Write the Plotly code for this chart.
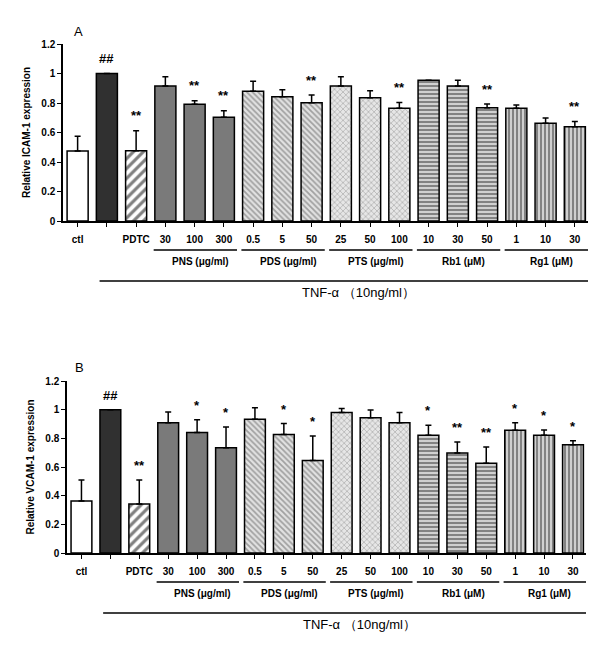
import plotly.graph_objects as go

# bar labels under the x axis
tick_labels = ["ctl", "", "PDTC", "30", "100", "300", "0.5", "5", "50",
               "25", "50", "100", "10", "30", "50", "1", "10", "30"]
treatment = (["ctl", "TNF", "PDTC"] + ["PNS"] * 3 + ["PDS"] * 3
             + ["PTS"] * 3 + ["Rb1"] * 3 + ["Rg1"] * 3)

group_keys = ["PNS", "PDS", "PTS", "Rb1", "Rg1"]
group_titles = ["PNS (μg/ml)", "PDS (μg/ml)", "PTS (μg/ml)", "Rb1 (μM)", "Rg1 (μM)"]

# panel A: ICAM-1
icam_mean = [0.475, 1.0, 0.477, 0.915, 0.791, 0.703, 0.879, 0.843, 0.802,
             0.915, 0.836, 0.764, 0.954, 0.915, 0.768, 0.764, 0.662, 0.639]
icam_err = [0.10, 0.0, 0.135, 0.063, 0.025, 0.045, 0.068, 0.047, 0.052,
            0.063, 0.047, 0.040, 0.0, 0.040, 0.025, 0.022, 0.036, 0.036]
icam_sig = ["", "##", "**", "", "**", "**", "", "", "**",
            "", "", "**", "", "", "**", "", "", "**"]

# panel B: VCAM-1
vcam_mean = [0.363, 1.0, 0.342, 0.908, 0.840, 0.734, 0.933, 0.826, 0.646,
             0.980, 0.943, 0.908, 0.821, 0.697, 0.627, 0.856, 0.821, 0.756]
vcam_err = [0.147, 0.0, 0.168, 0.075, 0.090, 0.145, 0.080, 0.077, 0.170,
            0.028, 0.054, 0.072, 0.070, 0.077, 0.112, 0.052, 0.037, 0.028]
vcam_sig = ["", "##", "**", "", "*", "*", "", "*", "*",
            "", "", "", "*", "**", "**", "*", "*", "*"]

# page has an 8px body margin, so the figure is drawn 8px in from the corner
OFF = 8
W, H = 600 - OFF, 657 - OFF
FONT = "Liberation Sans, Arial, sans-serif"

STYLES = {
    "ctl": dict(color="white"),
    "TNF": dict(color="#303030"),
    "PDTC": dict(color="white", pattern=dict(shape="/", size=7, solidity=0.45, fgcolor="black", bgcolor="white")),
    "PNS": dict(color="#7a7a7a"),
    "PDS": dict(color="white", pattern=dict(shape="\\", size=4, solidity=0.45, fgcolor="#5e5e5e", bgcolor="#e2e2e2")),
    "PTS": dict(color="white", pattern=dict(shape="x", size=4, solidity=0.35, fgcolor="#7e7e7e", bgcolor="#e6e6e6")),
    "Rb1": dict(color="white", pattern=dict(shape="-", size=4, solidity=0.5, fgcolor="#333333", bgcolor="#d0d0d0")),
    "Rg1": dict(color="white", pattern=dict(shape="|", size=4, solidity=0.5, fgcolor="#333333", bgcolor="#d0d0d0")),
}


def px_(x):
    return (x - OFF) / W


def py(y):
    return 1 - (y - OFF) / H


panels = [
    dict(mean=icam_mean, err=icam_err, sig=icam_sig, xa="x", ya="y",
         title="Relative ICAM-1 expression", letter="A",
         xdom=[px_(63), px_(588)], ydom=[py(221), py(44)], axis_px=221, letter_xy=(78, 32)),
    dict(mean=vcam_mean, err=vcam_err, sig=vcam_sig, xa="x2", ya="y2",
         title="Relative VCAM-1 expression", letter="B",
         xdom=[px_(67), px_(586)], ydom=[py(553), py(381)], axis_px=553, letter_xy=(79, 368)),
]

fig = go.Figure()
annotations = []
shapes = []

for p in panels:
    for key in STYLES:
        idx = [i for i, t in enumerate(treatment) if t == key]
        style = STYLES[key]
        marker = dict(color=style["color"], line=dict(color="black", width=1.5))
        if "pattern" in style:
            marker["pattern"] = style["pattern"]
        fig.add_trace(go.Bar(
            x=idx,
            y=[p["mean"][i] for i in idx],
            width=0.72,
            marker=marker,
            error_y=dict(type="data", symmetric=False,
                         array=[p["err"][i] for i in idx],
                         arrayminus=[0] * len(idx),
                         color="black", thickness=1.5, width=3),
            xaxis=p["xa"], yaxis=p["ya"],
            showlegend=False,
        ))

    # significance marks
    for i, s in enumerate(p["sig"]):
        if s:
            annotations.append(dict(
                x=i, y=p["mean"][i] + p["err"][i] + 0.1, xref=p["xa"], yref=p["ya"],
                text=f"<b>{s}</b>", showarrow=False, xanchor="center", yanchor="middle",
                font=dict(family=FONT, size=13, color="black")))

    # panel letter
    lx, ly = p["letter_xy"]
    annotations.append(dict(x=px_(lx), y=py(ly), xref="paper", yref="paper", text=p["letter"],
                            showarrow=False, xanchor="center", yanchor="middle",
                            font=dict(family=FONT, size=13, color="black")))

    base = p["axis_px"]
    # group underlines and names
    for g, name in zip(group_keys, group_titles):
        idx = [i for i, t in enumerate(treatment) if t == g]
        shapes.append(dict(type="line", xref=p["xa"], yref="paper",
                           x0=idx[0] - 0.4, x1=idx[-1] + 0.45,
                           y0=py(base + 29), y1=py(base + 29),
                           line=dict(color="black", width=1.5)))
        annotations.append(dict(x=(idx[0] + idx[-1]) / 2 + 0.2, y=py(base + 40),
                                xref=p["xa"], yref="paper", text=f"<b>{name}</b>",
                                showarrow=False, xanchor="center", yanchor="middle",
                                font=dict(family=FONT, size=10, color="black")))
    # TNF line and label
    shapes.append(dict(type="line", xref=p["xa"], yref="paper", x0=0.75, x1=17.6,
                       y0=py(base + 60), y1=py(base + 60),
                       line=dict(color="black", width=1.5)))
    annotations.append(dict(x=9.6, y=py(base + 71), xref=p["xa"], yref="paper",
                            text="TNF-α （10ng/ml）", showarrow=False,
                            xanchor="center", yanchor="middle",
                            font=dict(family=FONT, size=13, color="black")))

axis_common = dict(showline=True, linecolor="black", linewidth=1.5, ticks="outside",
                   tickcolor="black", ticklen=4, showgrid=False, zeroline=False,
                   automargin=False)

layout = dict(
    width=W, height=H,
    margin=dict(l=0, r=0, t=0, b=0),
    plot_bgcolor="white", paper_bgcolor="white",
    annotations=annotations, shapes=shapes,
    font=dict(family=FONT, color="black"),
)

for n, p in enumerate(panels):
    sx = "" if n == 0 else "2"
    layout[f"xaxis{sx}"] = dict(
        axis_common, domain=p["xdom"], anchor=f"y{sx}", range=[-0.5, 17.45],
        tickvals=list(range(len(tick_labels))), ticktext=[f"<b>{t}</b>" for t in tick_labels],
        tickfont=dict(family=FONT, size=10, color="black"), ticklabelstandoff=4)
    layout[f"yaxis{sx}"] = dict(
        axis_common, domain=p["ydom"], anchor=f"x{sx}", range=[0, 1.2],
        tickvals=[0, 0.2, 0.4, 0.6, 0.8, 1.0, 1.2],
        ticktext=["<b>0</b>", "<b>0.2</b>", "<b>0.4</b>", "<b>0.6</b>", "<b>0.8</b>", "<b>1</b>", "<b>1.2</b>"],
        tickfont=dict(family=FONT, size=10, color="black"),
        title=dict(text=f"<b>{p['title']}</b>", font=dict(family=FONT, size=10, color="black"), standoff=9))

fig.update_layout(**layout)
fig.write_html("out.html")
